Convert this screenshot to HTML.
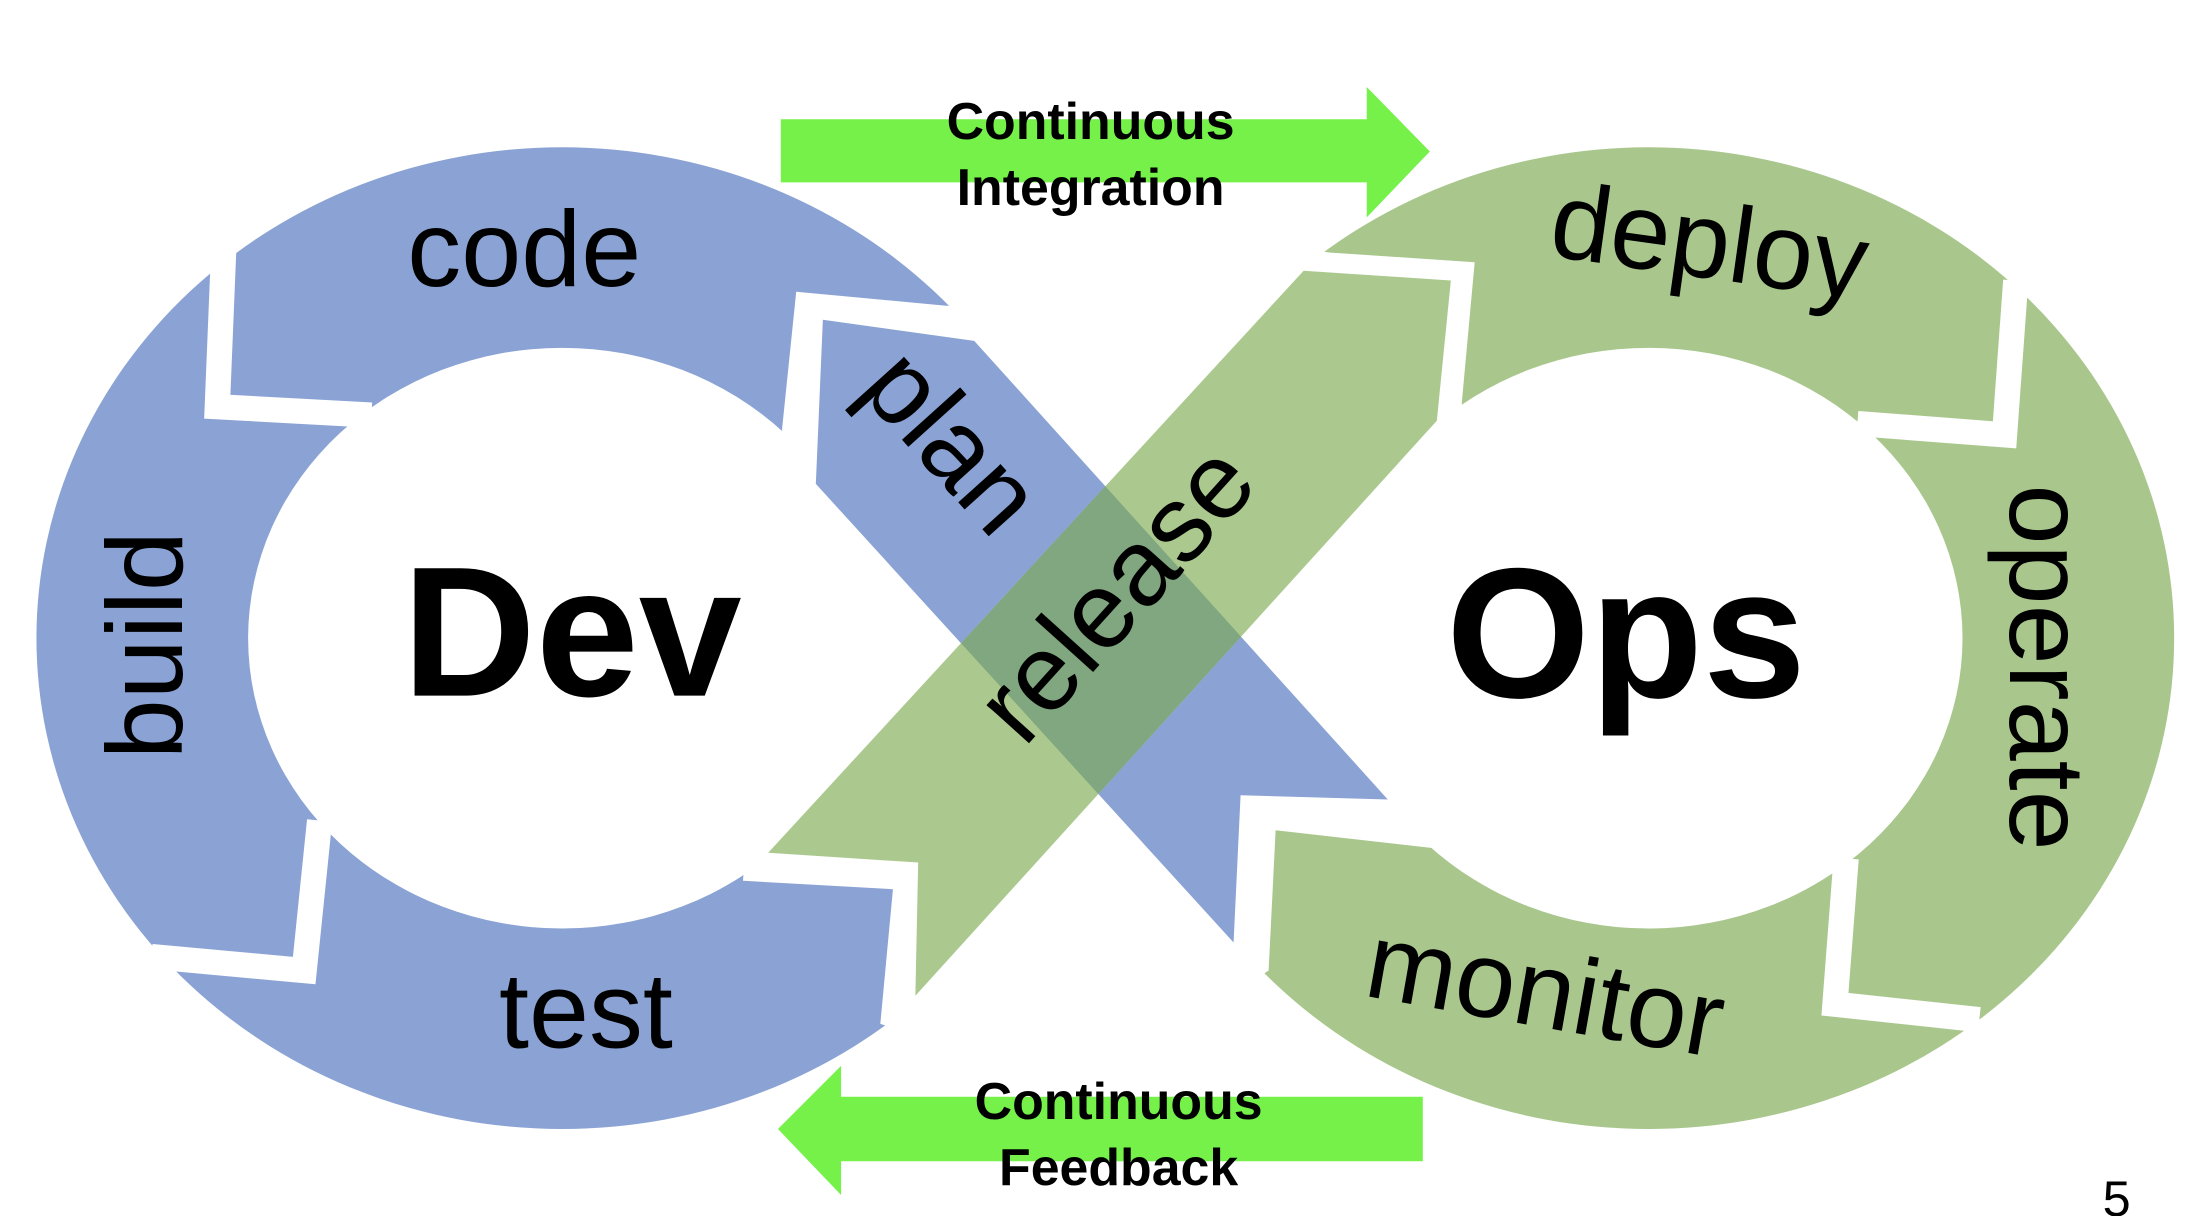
<!DOCTYPE html>
<html><head><meta charset="utf-8"><style>
html,body{margin:0;padding:0;background:#fff;}
svg{display:block;}
text{font-family:"Liberation Sans",Arial,sans-serif;}
</style></head><body>
<svg width="2198" height="1216" viewBox="0 0 1568 867" preserveAspectRatio="none" xmlns="http://www.w3.org/2000/svg">
<rect width="1568" height="867" fill="#fff"/>
<path fill-rule="evenodd" fill="#8ba3d4" d="M26,455 a375,350 0 1,0 750,0 a375,350 0 1,0 -750,0 Z M177,455 a224,207 0 1,0 448,0 a224,207 0 1,0 -448,0 Z"/>
<polyline points="160,168 155,290 265,296" fill="none" stroke="#fff" stroke-width="18"/>
<polyline points="108,682 217,692 228,585" fill="none" stroke="#fff" stroke-width="18"/>
<polygon fill="#fff" points="558,305 568,208 675,218 820,218 820,790 628,730 637,634 530,628"/>
<path fill-rule="evenodd" fill="#a9c78d" d="M801,455 a375,350 0 1,0 750,0 a375,350 0 1,0 -750,0 Z M952,455 a224,207 0 1,0 448,0 a224,207 0 1,0 -448,0 Z"/>
<polyline points="1438,200 1430,310 1325,302" fill="none" stroke="#fff" stroke-width="18"/>
<polyline points="1317,612 1309,716 1412,727" fill="none" stroke="#fff" stroke-width="18"/>
<polygon fill="#fff" points="1043,285 1052,187 948,180 760,150 760,790 905,692 910,592 1025,605"/>
<polygon fill="#8ba3d4" points="587,228 695,243 990,570 885,567 880,672 582,345"/>
<polygon fill="#abc98f" points="548,608 930,193 1035,200 1025,300 653,710 655,615"/>
<polygon fill="#80a77f" points="788.5,346.7 885.3,453.9 783.5,566.1 685.6,458.6"/>
<polygon fill="#75f14a" points="557,85 975,85 975,62 1020,108 975,155 975,130 557,130"/>
<polygon fill="#75f14a" points="1015,782 600,782 600,760 555,805 600,852 600,828 1015,828"/>
<g font-weight="bold" font-size="37" text-anchor="middle" fill="#000">
<text x="778" y="99">Continuous</text>
<text x="778" y="146">Integration</text>
<text x="798" y="798">Continuous</text>
<text x="798" y="845">Feedback</text>
</g>
<g font-weight="bold" font-size="132" text-anchor="middle" fill="#000">
<text x="408" y="496">Dev</text>
<text x="1160" y="497">Ops</text>
</g>
<g font-size="77" text-anchor="middle" fill="#000">
<text x="374" y="204">code</text>
<text x="418" y="747">test</text>
<text transform="translate(130,460) rotate(-90)">build</text>
<text transform="translate(660,332) rotate(48)">plan</text>
<text transform="translate(815,440) rotate(-48)">release</text>
<text transform="translate(1216,198) rotate(8)">deploy</text>
<text transform="translate(1434,476) rotate(90)">operate</text>
<text transform="translate(1098,732) rotate(10)">monitor</text>
</g>
<text x="1500" y="867" font-size="36" fill="#000">5</text>
</svg>
</body></html>
